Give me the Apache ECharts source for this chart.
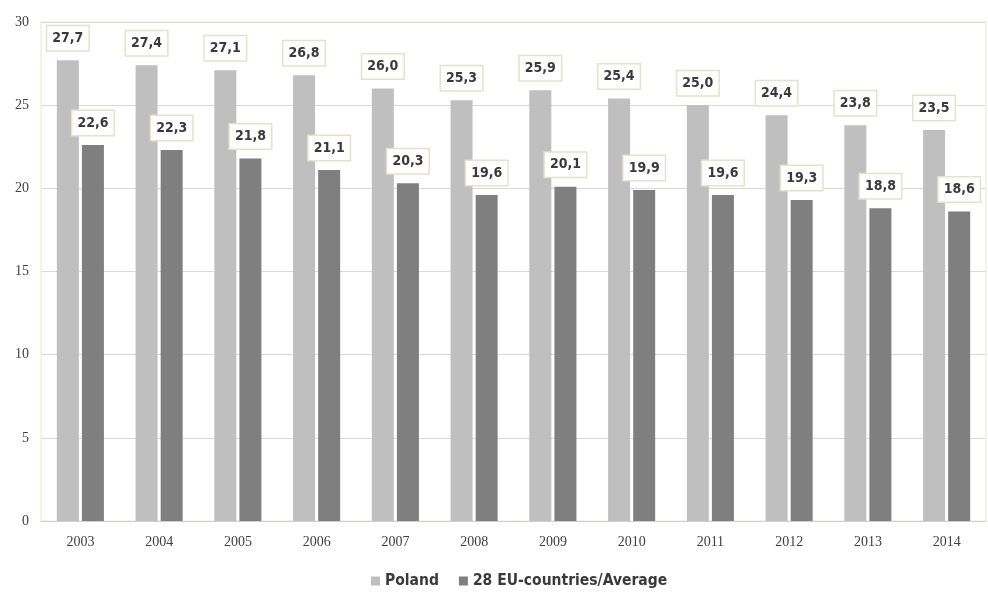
<!DOCTYPE html>
<html><head><meta charset="utf-8">
<script src="https://cdn.jsdelivr.net/npm/echarts@6/dist/echarts.min.js"></script>
<style>html,body{margin:0;padding:0;background:#fff}#c{width:988px;height:594px}</style>
</head><body><div id="c"></div>
<script>
const years = ['2003','2004','2005','2006','2007','2008','2009','2010','2011','2012','2013','2014'];
const poland = [27.7,27.4,27.1,26.8,26.0,25.3,25.9,25.4,25.0,24.4,23.8,23.5];
const eu28 = [22.6,22.3,21.8,21.1,20.3,19.6,20.1,19.9,19.6,19.3,18.8,18.6];
const seriesNames = ['Poland','28 EU-countries/Average'];

const narrow = '"Liberation Sans Narrow","Arial Narrow","DejaVu Sans Condensed","Liberation Sans",sans-serif';
const labelStyle = {
  show: true, position: 'top', distance: 10,
  formatter: p => p.value.toFixed(1).replace('.', ','),
  fontFamily: narrow,
  fontWeight: 'bold', fontSize: 14, color: '#3a3a3a',
  backgroundColor: '#fff', borderColor: '#e4e2cc', borderWidth: 1.5,
  padding: [5, 5, 5, 5]
};
const chart = echarts.init(document.getElementById('c'));
chart.setOption({
  animation: false,
  grid: { left: 41, right: 2, top: 22, bottom: 73, show: true, borderColor: '#e8e6d4', borderWidth: 1 },
  legend: {
    bottom: 0, left: 366, itemWidth: 9, itemHeight: 9, itemGap: 20,
    icon: 'rect',
    textStyle: { fontFamily: narrow, fontWeight: 'bold', fontSize: 15.5, color: '#3a3a3a' },
    data: seriesNames
  },
  xAxis: {
    type: 'category', data: years,
    axisLine: { lineStyle: { color: '#d0d0d0' } },
    axisTick: { show: false },
    axisLabel: { fontFamily: '"Liberation Serif",serif', fontSize: 14, color: '#404040', margin: 14 }
  },
  yAxis: {
    type: 'value', min: 0, max: 30, interval: 5,
    axisLabel: { fontFamily: '"Liberation Serif",serif', fontSize: 14, color: '#404040', margin: 12 },
    splitLine: { lineStyle: { color: '#d9d9d9' } },
    axisLine: { show: false }, axisTick: { show: false }
  },
  series: [
    { name: seriesNames[0], type: 'bar', data: poland, barWidth: 22, barGap: '14%', itemStyle: { color: '#bfbfbf' }, label: labelStyle },
    { name: seriesNames[1], type: 'bar', data: eu28, barWidth: 22, itemStyle: { color: '#7f7f7f' }, label: labelStyle }
  ]
});
</script></body></html>
